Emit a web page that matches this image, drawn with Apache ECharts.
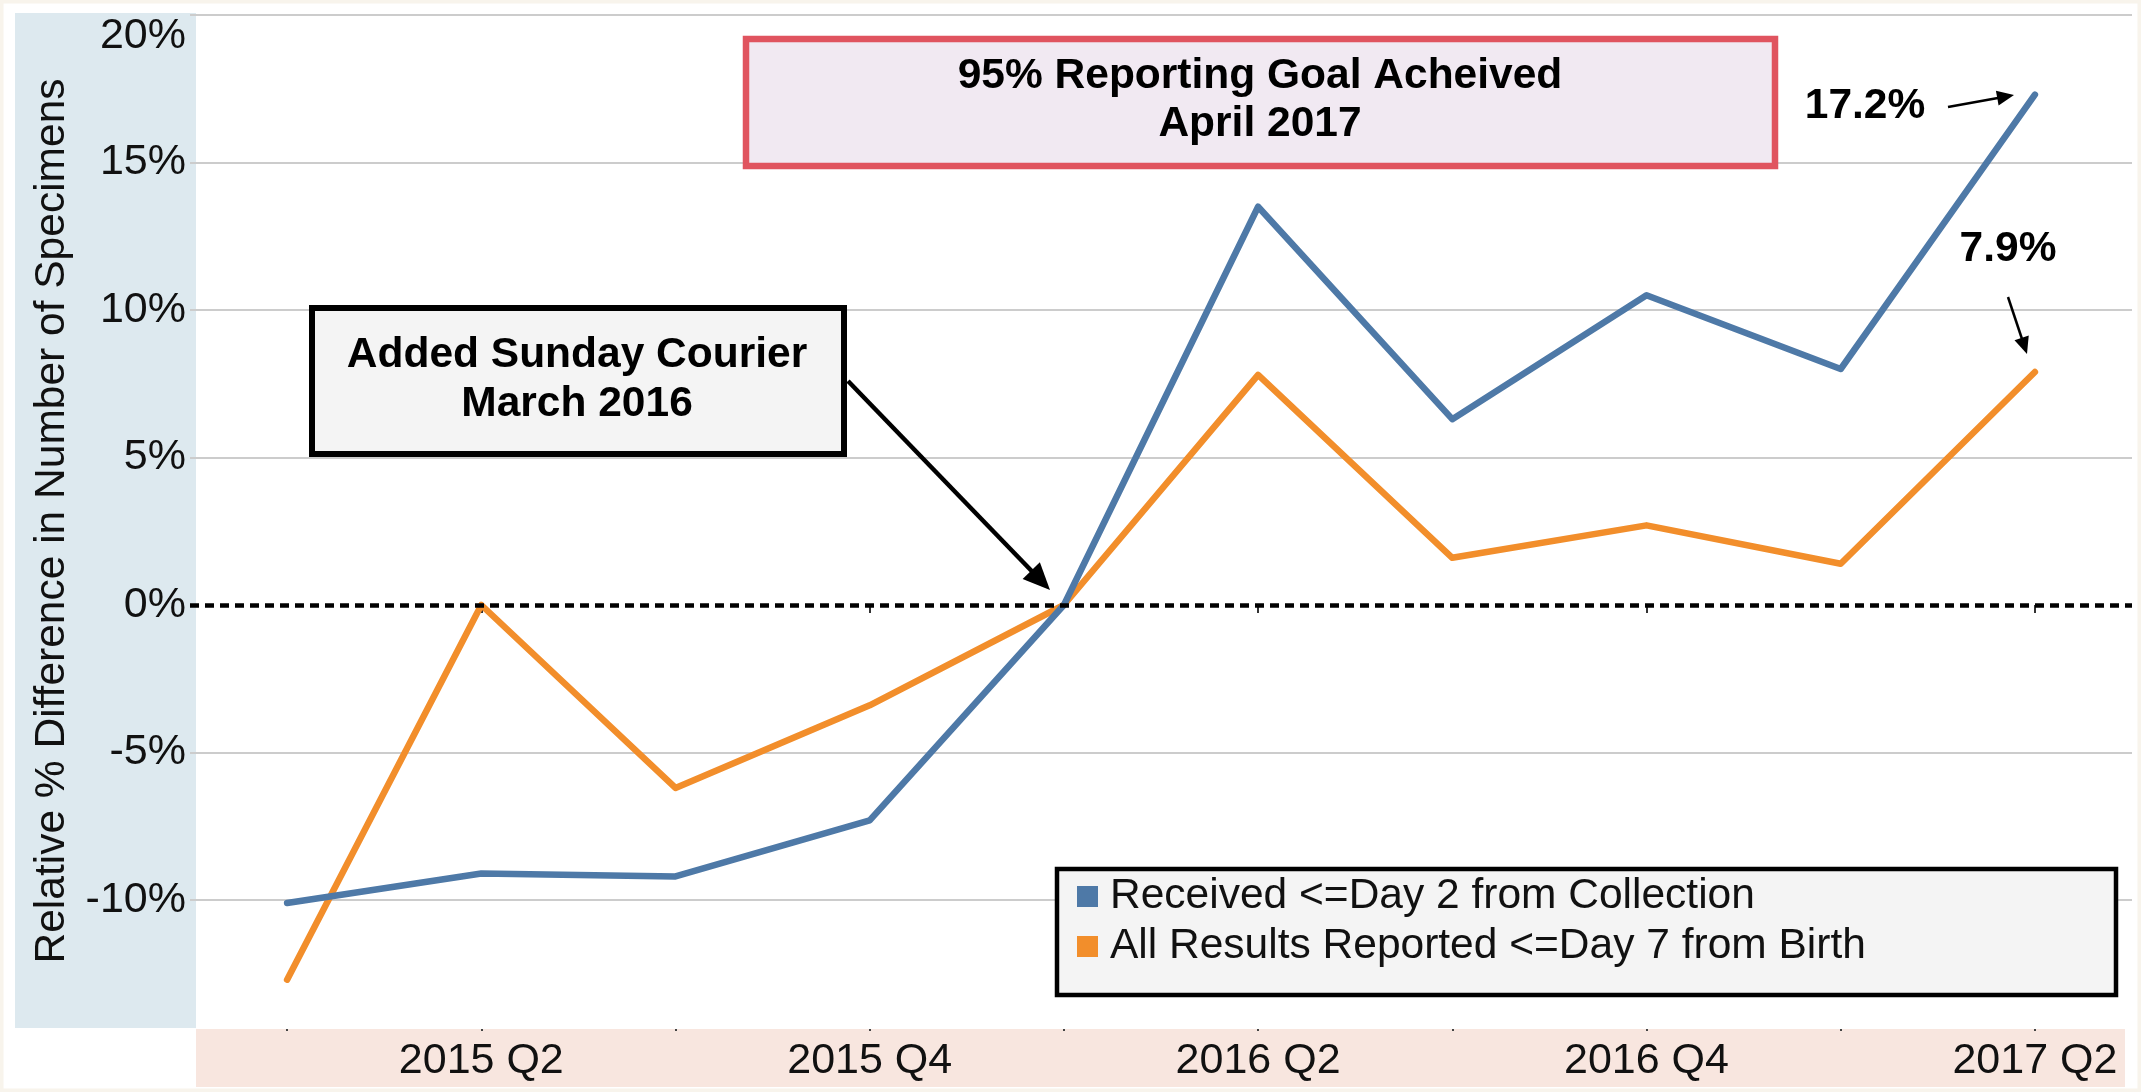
<!DOCTYPE html>
<html>
<head>
<meta charset="utf-8">
<script src="https://cdn.jsdelivr.net/npm/echarts@6/dist/echarts.min.js"></script>
<style>
html, body { margin: 0; padding: 0; background: #fff; }
#chart { width: 2141px; height: 1092px; }
</style>
</head>
<body>
<div id="chart"></div>
<script>
// quarters on the x axis
const quarters = ['2015 Q1', '2015 Q2', '2015 Q3', '2015 Q4', '2016 Q1', '2016 Q2', '2016 Q3', '2016 Q4', '2017 Q1', '2017 Q2']
// relative % difference vs baseline
const receivedDay2 = [-10.1, -9.1, -9.2, -7.3, 0, 13.5, 6.3, 10.5, 8.0, 17.3]
const reportedDay7 = [-12.7, 0, -6.2, -3.4, 0, 7.8, 1.6, 2.7, 1.4, 7.9]
const seriesNames = ['Received <=Day 2 from Collection', 'All Results Reported <=Day 7 from Birth']
const yLabels = ['-10%', '-5%', '0%', '5%', '10%', '15%', '20%']

const FONT = 'Liberation Sans, Arial, sans-serif'
const BLUE = '#4e79a7'
const ORANGE = '#f28e2b'

function arrow(x1, y1, x2, y2, w, hl, hw) {
  const dx = x2 - x1, dy = y2 - y1
  const L = Math.hypot(dx, dy), ux = dx / L, uy = dy / L
  const bx = x2 - ux * hl, by = y2 - uy * hl
  return [
    { type: 'line', z: 20, shape: { x1: x1, y1: y1, x2: bx + ux * 2, y2: by + uy * 2 }, style: { stroke: '#000', lineWidth: w } },
    { type: 'polygon', z: 20, shape: { points: [[x2, y2], [bx - uy * hw, by + ux * hw], [bx + uy * hw, by - ux * hw]] }, style: { fill: '#000' } }
  ]
}

function label(text, x, y) {
  return {
    type: 'text', z: 21, x: x, y: y,
    style: { text: text, fontSize: 42.5, fontWeight: 'bold', fontFamily: FONT, fill: '#000', align: 'center', verticalAlign: 'middle' }
  }
}

const chart = echarts.init(document.getElementById('chart'))

let option = {
  animation: false,
  backgroundColor: '#fff',
  grid: { left: 190, right: 9, top: 15, bottom: 44.5, containLabel: false },
  legend: {
    left: 1072, top: 870, orient: 'vertical', z: 30,
    selectedMode: false,
    icon: 'rect', itemWidth: 21, itemHeight: 21, itemGap: 7,
    textStyle: { fontSize: 42.5, lineHeight: 42, fontFamily: FONT, color: '#111', padding: [0, 0, 0, 7] },
    data: [seriesNames[0], seriesNames[1]]
  },
  xAxis: [
    {
      type: 'category', data: quarters, boundaryGap: true, position: 'bottom', offset: -18.5,
      axisLine: { show: false },
      axisTick: { show: true, alignWithLabel: true, interval: (i) => i % 2 === 1, length: 8, lineStyle: { color: '#333', width: 2 } },
      axisLabel: { interval: (i) => i % 2 === 1, fontSize: 43, fontFamily: FONT, color: '#111', margin: 11 },
      splitLine: { show: false }
    },
    {
      type: 'category', data: quarters, boundaryGap: true, position: 'bottom', offset: -18.5,
      axisLine: { show: false },
      axisTick: { show: true, alignWithLabel: true, interval: 0, length: 2, lineStyle: { color: '#444', width: 2 } },
      axisLabel: { show: false },
      splitLine: { show: false }
    }
  ],
  yAxis: {
    type: 'value', min: -15, max: 20, interval: 5,
    axisLine: { show: false },
    axisTick: { show: false },
    axisLabel: {
      fontSize: 43, fontFamily: FONT, color: '#111', margin: 4,
      verticalAlignMaxLabel: 'top',
      formatter: (v) => yLabels.indexOf(v + '%') >= 0 ? v + '%' : ''
    },
    splitLine: {
      lineStyle: {
        width: 2,
        color: ['rgba(0,0,0,0)', '#cccccc', '#cccccc', 'rgba(0,0,0,0)', '#cccccc', '#cccccc', '#cccccc', '#cccccc']
      }
    }
  },
  series: [
    {
      name: seriesNames[1], type: 'line', data: reportedDay7, xAxisIndex: 0, z: 3,
      showSymbol: false, symbol: 'none', itemStyle: { color: ORANGE },
      lineStyle: { color: ORANGE, width: 6.5, cap: 'round', join: 'round' },
      markLine: {
        silent: true, symbol: ['none', 'none'], label: { show: false },
        lineStyle: { type: [9, 6], color: '#000', width: 4.5 },
        data: [{ yAxis: 0 }]
      }
    },
    {
      name: seriesNames[0], type: 'line', data: receivedDay2, xAxisIndex: 0, z: 4,
      showSymbol: false, symbol: 'none', itemStyle: { color: BLUE },
      lineStyle: { color: BLUE, width: 6.5, cap: 'round', join: 'round' }
    }
  ],
  graphic: [
    // outer frame and axis bands
    { type: 'rect', z: -10, shape: { x: 1, y: 1, width: 2139, height: 1090 }, style: { fill: 'none', stroke: '#f8f4ec', lineWidth: 5 } },
    { type: 'rect', z: -10, shape: { x: 15, y: 13, width: 181, height: 1015 }, style: { fill: '#dde9ef' } },
    { type: 'rect', z: -10, shape: { x: 196, y: 1029, width: 1929, height: 58 }, style: { fill: '#f8e6df' } },
    {
      type: 'text', z: 5, x: 52, y: 521, rotation: Math.PI / 2,
      style: { text: 'Relative % Difference in Number of Specimens', fontSize: 42.5, fontFamily: FONT, fill: '#111', align: 'center', verticalAlign: 'middle' }
    },
    // annotation: courier
    { type: 'rect', z: 20, shape: { x: 312, y: 308, width: 532, height: 146 }, style: { fill: '#f4f4f4', stroke: '#000', lineWidth: 6 } },
    label('Added Sunday Courier', 577, 355),
    label('March 2016', 577, 404),
    ...arrow(848, 381, 1050, 590, 4.5, 27, 12),
    // annotation: goal
    { type: 'rect', z: 20, shape: { x: 746, y: 39, width: 1029, height: 127 }, style: { fill: '#f1e9f2', stroke: '#e0545f', lineWidth: 6.5 } },
    label('95% Reporting Goal Acheived', 1260, 76),
    label('April 2017', 1260, 124),
    // end values
    label('17.2%', 1865, 106),
    ...arrow(1948, 107, 2014, 95, 2.5, 17, 7.5),
    label('7.9%', 2008, 249),
    ...arrow(2008, 297, 2027, 354, 2.5, 17, 7.5),
    // legend box
    { type: 'rect', z: 20, shape: { x: 1057, y: 869, width: 1059, height: 126 }, style: { fill: '#f4f4f4', stroke: '#000', lineWidth: 4.5 } }
  ]
}

chart.setOption(option)
</script>
</body>
</html>
